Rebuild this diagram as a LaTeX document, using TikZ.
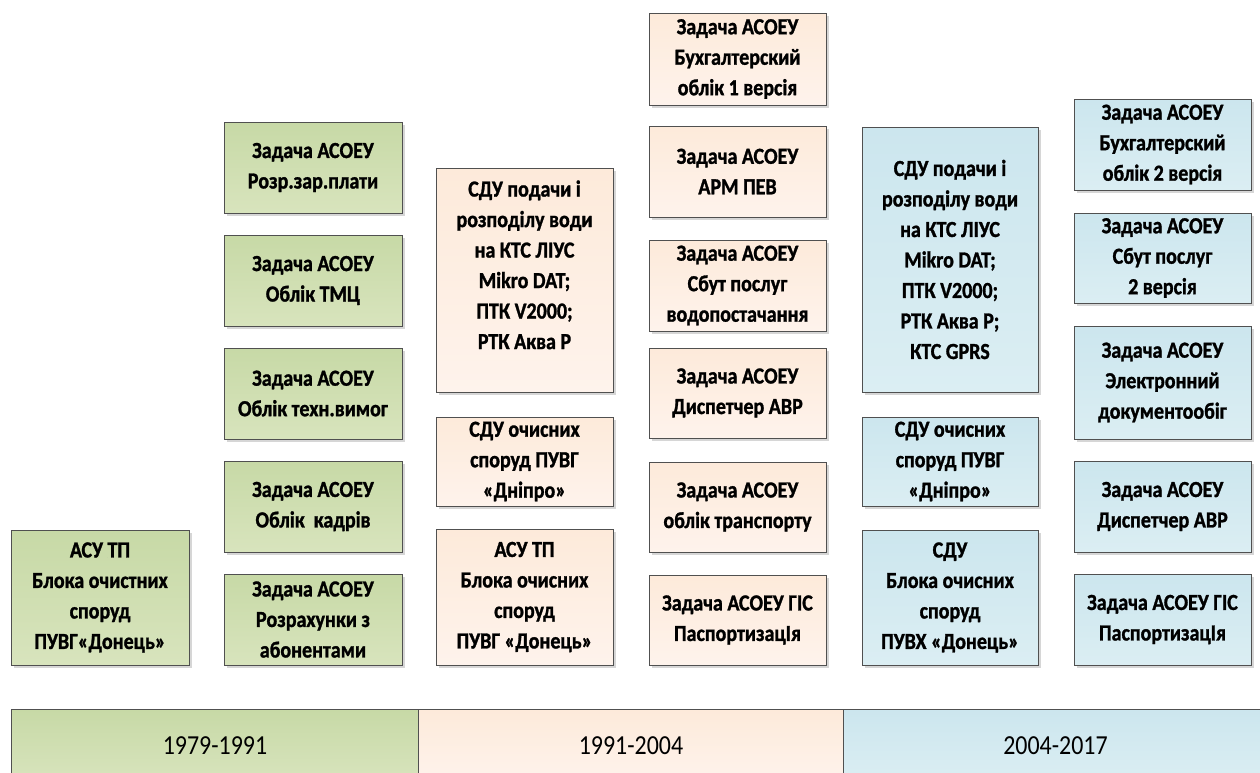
\documentclass[tikz,border=0pt]{standalone}
\usepackage{fontspec}
\setmainfont{Carlito}[FakeStretch=0.87, BoldFeatures={FakeBold=1.2}]
\usetikzlibrary{shadows}
\definecolor{grT}{RGB}{199,217,166}
\definecolor{grB}{RGB}{216,228,189}
\definecolor{peT}{RGB}{253,234,218}
\definecolor{peB}{RGB}{254,243,236}
\definecolor{blT}{RGB}{204,230,238}
\definecolor{blB}{RGB}{219,238,243}
\definecolor{edge}{RGB}{80,80,80}
\tikzset{
  box/.style={draw=edge, line width=1pt, align=center, inner sep=0pt,
    font=\bfseries\fontsize{23}{30.5}\selectfont,
    drop shadow={shadow xshift=3pt, shadow yshift=-3pt, fill=black!40, opacity=0.4}},
  gbox/.style={box, top color=grT, bottom color=grB},
  pbox/.style={box, top color=peT, bottom color=peB},
  bbox/.style={box, top color=blT, bottom color=blB},
  bar/.style={draw=edge, line width=1pt, align=center, inner sep=0pt, anchor=north west,
    minimum height=72, font=\fontsize{27.5}{30}\selectfont,
    drop shadow={shadow xshift=3pt, shadow yshift=-3pt, fill=black!40, opacity=0.4}},
  gbar/.style={bar, top color=grT, bottom color=grB},
  pbar/.style={bar, top color=peT, bottom color=peB},
  bbar/.style={bar, top color=blT, bottom color=blB},
}
\begin{document}
\begin{tikzpicture}[x=1pt,y=-1pt]
\useasboundingbox (0,0) rectangle (1260,772);
\fill[white] (0,0) rectangle (1260,772);

% column 1
\node[gbox, minimum width=178, minimum height=135] (g0) at (100,597.5)
  {АСУ ТП\\Блока очистних\\споруд\\ПУВГ«Донець»};

% column 2
\node[gbox, minimum width=178, minimum height=91] (g1) at (313,167.5)
  {Задача АСОЕУ\\Розр.зар.плати};
\node[gbox, minimum width=178, minimum height=91] (g2) at (313,280.5)
  {Задача АСОЕУ\\Облік ТМЦ};
\node[gbox, minimum width=178, minimum height=91] (g3) at (313,393.5)
  {Задача АСОЕУ\\Облік техн.вимог};
\node[gbox, minimum width=178, minimum height=91] (g4) at (313,506.5)
  {Задача АСОЕУ\\Облік~ кадрів};
\node[gbox, minimum width=178, minimum height=91] (g5) at (313,619.5)
  {Задача АСОЕУ\\Розрахунки з\\абонентами};

% column 3
\node[pbox, minimum width=177, minimum height=224] (p1) at (524.5,280)
  {СДУ подачи і\\розподілу води\\на КТС ЛІУС\\Mikro DAT;\\ПТК V2000;\\РТК Аква Р\\\mbox{}};
\node[pbox, minimum width=177, minimum height=89] (p2) at (524.5,461.5)
  {СДУ очисних\\споруд ПУВГ\\«Дніпро»};
\node[pbox, minimum width=177, minimum height=136] (p3) at (524.5,597)
  {АСУ ТП\\Блока очисних\\споруд\\ПУВГ «Донець»};

% column 4
\node[pbox, minimum width=177, minimum height=92] (q1) at (737.5,59)
  {Задача АСОЕУ\\Бухгалтерский\\облік 1 версія};
\node[pbox, minimum width=177, minimum height=91] (q2) at (737.5,171.5)
  {Задача АСОЕУ\\АРМ ПЕВ};
\node[pbox, minimum width=177, minimum height=91] (q3) at (737.5,285.5)
  {Задача АСОЕУ\\Сбут послуг\\водопостачання};
\node[pbox, minimum width=177, minimum height=90] (q4) at (737.5,393)
  {Задача АСОЕУ\\Диспетчер АВР};
\node[pbox, minimum width=177, minimum height=90] (q5) at (737.5,507)
  {Задача АСОЕУ\\облік транспорту};
\node[pbox, minimum width=177, minimum height=90] (q6) at (737.5,620)
  {Задача АСОЕУ ГІС\\ПаспортизацІя};

% column 5
\node[bbox, minimum width=176, minimum height=265] (b1) at (950,259.5)
  {СДУ подачи і\\розподілу води\\на КТС ЛІУС\\Mikro DAT;\\ПТК V2000;\\РТК Аква Р;\\КТС GPRS};
\node[bbox, minimum width=176, minimum height=89] (b2) at (950,461.5)
  {СДУ очисних\\споруд ПУВГ\\«Дніпро»};
\node[bbox, minimum width=176, minimum height=135] (b3) at (950,597.5)
  {СДУ\\Блока очисних\\споруд\\ПУВХ «Донець»};

% column 6
\node[bbox, minimum width=177, minimum height=91] (c1) at (1162.5,144.5)
  {Задача АСОЕУ\\Бухгалтерский\\облік 2 версія};
\node[bbox, minimum width=177, minimum height=90] (c2) at (1162.5,258)
  {Задача АСОЕУ\\Сбут послуг\\2 версія};
\node[bbox, minimum width=177, minimum height=113] (c3) at (1162.5,382.5)
  {Задача АСОЕУ\\Электронний\\документообіг};
\node[bbox, minimum width=177, minimum height=91] (c4) at (1162.5,506.5)
  {Задача АСОЕУ\\Диспетчер АВР};
\node[bbox, minimum width=177, minimum height=91] (c5) at (1162.5,619.5)
  {Задача АСОЕУ ГІС\\ПаспортизацІя};

% timeline bars
\node[gbar, minimum width=407] (t1) at (11,709) {1979-1991};
\node[pbar, minimum width=425] (t2) at (418,709) {1991-2004};
\node[bbar, minimum width=424] (t3) at (843,709) {2004-2017};
\end{tikzpicture}
\end{document}
